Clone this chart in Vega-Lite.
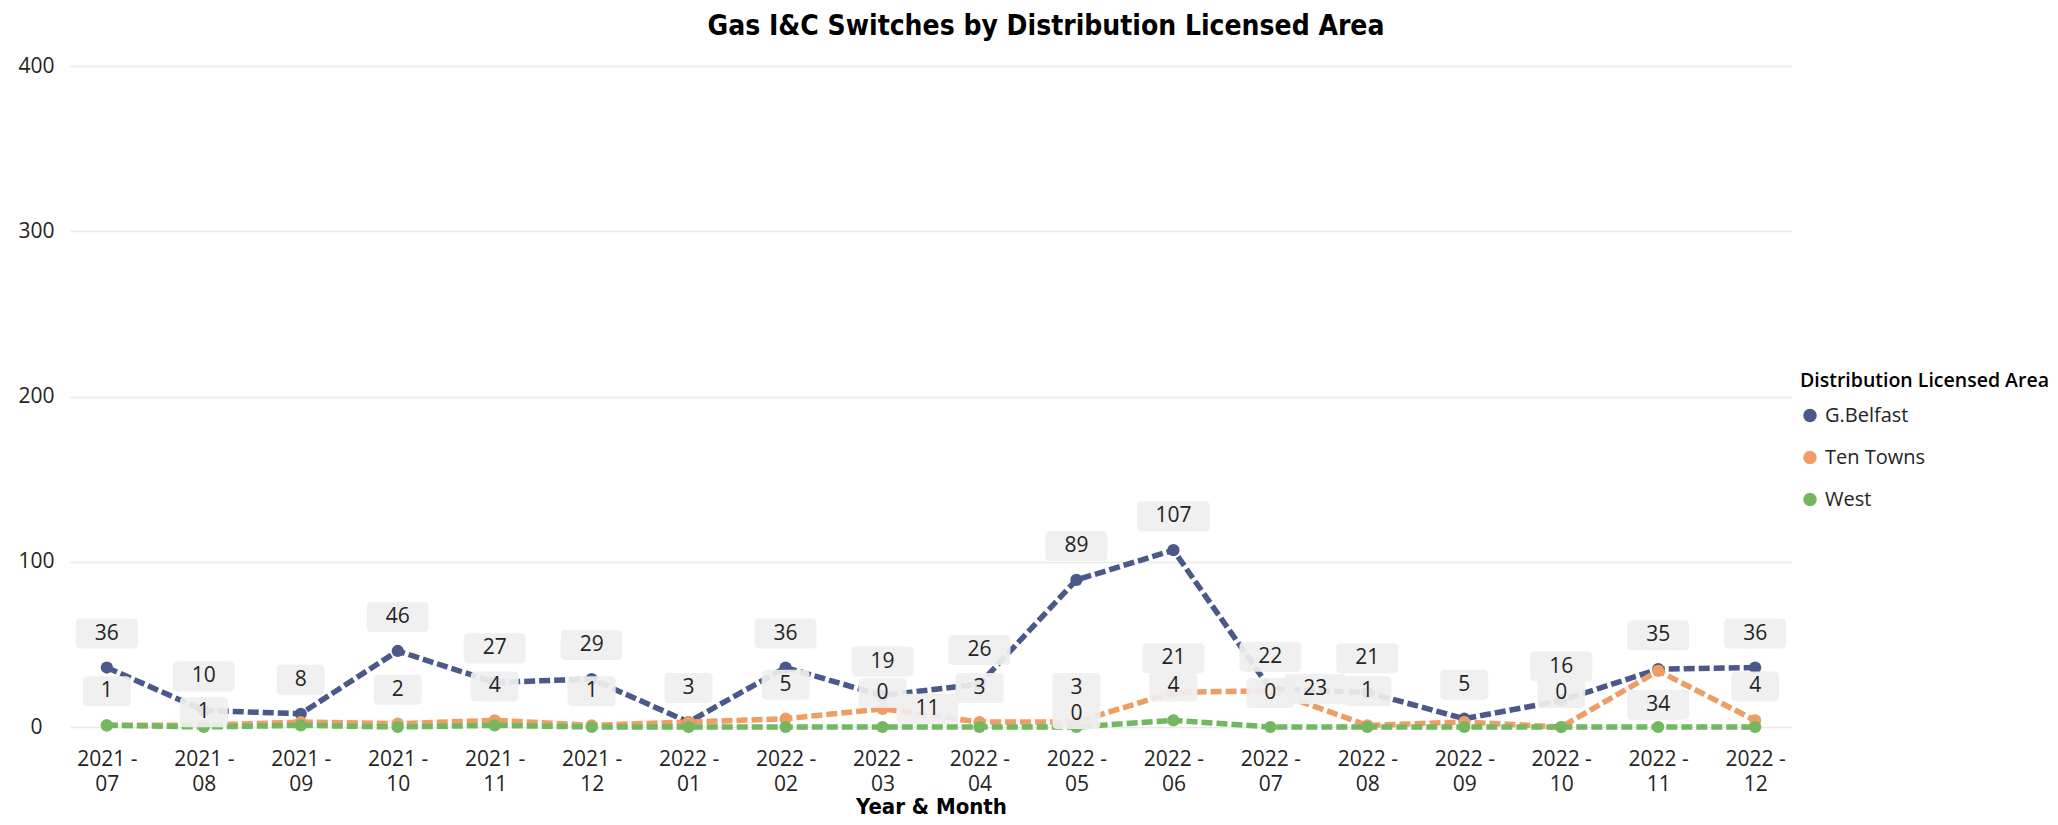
{
  "$schema": "https://vega.github.io/schema/vega-lite/v6.json",
  "autosize": {"type": "none"},
  "width": 1722,
  "height": 661,
  "padding": {"left": 70, "top": 66, "right": 266, "bottom": 98},
  "background": "white",
  "title": {
    "text": "Gas I&C Switches by Distribution Licensed Area",
    "anchor": "middle",
    "frame": "group",
    "dx": 115,
    "offset": 14,
    "font": "Liberation Sans Narrow, Arial Narrow, DejaVu Sans Condensed, sans-serif",
    "fontSize": 28,
    "fontWeight": "bold",
    "color": "#000000"
  },
  "config": {
    "view": {"stroke": null},
    "axis": {"labelFont": "Open Sans", "titleFont": "Liberation Sans Narrow, Arial Narrow, DejaVu Sans Condensed, sans-serif"},
    "legend": {
      "labelFont": "Open Sans",
      "titleFont": "Open Sans"
    }
  },
  "data": {
    "values": [
      {"month": "2021 - 07", "area": "G.Belfast", "value": 36},
      {"month": "2021 - 08", "area": "G.Belfast", "value": 10},
      {"month": "2021 - 09", "area": "G.Belfast", "value": 8},
      {"month": "2021 - 10", "area": "G.Belfast", "value": 46},
      {"month": "2021 - 11", "area": "G.Belfast", "value": 27},
      {"month": "2021 - 12", "area": "G.Belfast", "value": 29},
      {"month": "2022 - 01", "area": "G.Belfast", "value": 3},
      {"month": "2022 - 02", "area": "G.Belfast", "value": 36},
      {"month": "2022 - 03", "area": "G.Belfast", "value": 19},
      {"month": "2022 - 04", "area": "G.Belfast", "value": 26},
      {"month": "2022 - 05", "area": "G.Belfast", "value": 89},
      {"month": "2022 - 06", "area": "G.Belfast", "value": 107},
      {"month": "2022 - 07", "area": "G.Belfast", "value": 23},
      {"month": "2022 - 08", "area": "G.Belfast", "value": 21},
      {"month": "2022 - 09", "area": "G.Belfast", "value": 5},
      {"month": "2022 - 10", "area": "G.Belfast", "value": 16},
      {"month": "2022 - 11", "area": "G.Belfast", "value": 35},
      {"month": "2022 - 12", "area": "G.Belfast", "value": 36},
      {"month": "2021 - 07", "area": "Ten Towns", "value": 1},
      {"month": "2021 - 08", "area": "Ten Towns", "value": 1},
      {"month": "2021 - 09", "area": "Ten Towns", "value": 3},
      {"month": "2021 - 10", "area": "Ten Towns", "value": 2},
      {"month": "2021 - 11", "area": "Ten Towns", "value": 4},
      {"month": "2021 - 12", "area": "Ten Towns", "value": 1},
      {"month": "2022 - 01", "area": "Ten Towns", "value": 3},
      {"month": "2022 - 02", "area": "Ten Towns", "value": 5},
      {"month": "2022 - 03", "area": "Ten Towns", "value": 11},
      {"month": "2022 - 04", "area": "Ten Towns", "value": 3},
      {"month": "2022 - 05", "area": "Ten Towns", "value": 3},
      {"month": "2022 - 06", "area": "Ten Towns", "value": 21},
      {"month": "2022 - 07", "area": "Ten Towns", "value": 22},
      {"month": "2022 - 08", "area": "Ten Towns", "value": 1},
      {"month": "2022 - 09", "area": "Ten Towns", "value": 3},
      {"month": "2022 - 10", "area": "Ten Towns", "value": 0},
      {"month": "2022 - 11", "area": "Ten Towns", "value": 34},
      {"month": "2022 - 12", "area": "Ten Towns", "value": 4},
      {"month": "2021 - 07", "area": "West", "value": 1},
      {"month": "2021 - 08", "area": "West", "value": 0},
      {"month": "2021 - 09", "area": "West", "value": 1},
      {"month": "2021 - 10", "area": "West", "value": 0},
      {"month": "2021 - 11", "area": "West", "value": 1},
      {"month": "2021 - 12", "area": "West", "value": 0},
      {"month": "2022 - 01", "area": "West", "value": 0},
      {"month": "2022 - 02", "area": "West", "value": 0},
      {"month": "2022 - 03", "area": "West", "value": 0},
      {"month": "2022 - 04", "area": "West", "value": 0},
      {"month": "2022 - 05", "area": "West", "value": 0},
      {"month": "2022 - 06", "area": "West", "value": 4},
      {"month": "2022 - 07", "area": "West", "value": 0},
      {"month": "2022 - 08", "area": "West", "value": 0},
      {"month": "2022 - 09", "area": "West", "value": 0},
      {"month": "2022 - 10", "area": "West", "value": 0},
      {"month": "2022 - 11", "area": "West", "value": 0},
      {"month": "2022 - 12", "area": "West", "value": 0}
    ]
  },
  "transform": [
    {"calculate": "(datum.area == 'Ten Towns' && datum.month == '2021 - 08') || (datum.area == 'West' && datum.month == '2022 - 05') ? 'center' : ((datum.area == 'G.Belfast' && datum.month == '2022 - 07') || (datum.area == 'Ten Towns' && datum.month == '2022 - 03') ? 'right' : ((datum.area == 'Ten Towns' && datum.month == '2022 - 11') ? 'below' : (((datum.area == 'Ten Towns' && indexof(['2021 - 09', '2022 - 01', '2022 - 09'], datum.month) >= 0) || (datum.area == 'West' && indexof(['2022 - 03', '2022 - 06', '2022 - 07'], datum.month) < 0)) ? 'none' : 'above')))", "as": "place"},
    {"calculate": "'' + length(toString(datum.value))", "as": "digits"}
  ],
  "encoding": {
    "x": {
      "field": "month",
      "type": "ordinal",
      "sort": null,
      "scale": {"type": "point", "padding": 0.38},
      "axis": {
        "title": "Year & Month",
        "titleFontSize": 22,
        "titleFontWeight": "bold",
        "titleColor": "#000000",
        "titlePadding": 2,
        "labelAngle": 0,
        "labelExpr": "[slice(datum.label, 0, 6), slice(datum.label, 7)]",
        "labelFontSize": 21,
        "labelLineHeight": 25,
        "labelColor": "#252423",
        "labelPadding": 21,
        "ticks": false,
        "tickSize": 0,
        "domain": false,
        "grid": false
      }
    },
    "y": {
      "field": "value",
      "type": "quantitative",
      "scale": {"domain": [0, 400], "nice": false},
      "axis": {
        "title": null,
        "values": [0, 100, 200, 300, 400],
        "labelFontSize": 21,
        "labelColor": "#252423",
        "labelAlign": "center",
        "labelPadding": 34,
        "ticks": false,
        "tickSize": 0,
        "domain": false,
        "grid": true,
        "gridColor": "#e9e9e9",
        "gridWidth": 1.5
      }
    }
  },
  "layer": [
    {
      "mark": {"type": "line", "strokeWidth": 5.5, "strokeDash": [11, 4]},
      "encoding": {
        "color": {
          "field": "area",
          "type": "nominal",
          "scale": {"domain": ["G.Belfast", "Ten Towns", "West"], "range": ["#4A588A", "#EE9E64", "#73B761"]},
          "legend": {
            "title": "Distribution Licensed Area",
            "orient": "none",
            "legendX": 1730,
            "legendY": 306,
            "padding": 0,
            "titleFontSize": 19.5,
            "titleFontWeight": 600,
            "titleColor": "#000000",
            "titlePadding": 14,
            "titleLimit": 400,
            "labelFontSize": 20,
            "labelColor": "#252423",
            "labelOffset": 5,
            "symbolType": "circle",
            "symbolSize": 180,
            "symbolStrokeWidth": 0,
            "rowPadding": 22
          }
        }
      }
    },
    {
      "mark": {"type": "point", "filled": true, "size": 150, "opacity": 1},
      "encoding": {
        "color": {
          "field": "area",
          "type": "nominal",
          "scale": {"domain": ["G.Belfast", "Ten Towns", "West"], "range": ["#4A588A", "#EE9E64", "#73B761"]}
        }
      }
    },
    {
      "transform": [{"filter": "datum.place == 'above'"}],
      "mark": {"type": "point", "filled": true, "fill": "#efefef", "opacity": 0.92, "size": 5184, "yOffset": -34},
      "encoding": {
        "shape": {"field": "digits", "type": "nominal", "legend": null, "scale": {"domain": ["1", "2", "3"], "range": [
          "M -0.527 -0.417 L 0.527 -0.417 Q 0.667 -0.417 0.667 -0.277 L 0.667 0.277 Q 0.667 0.417 0.527 0.417 L -0.527 0.417 Q -0.667 0.417 -0.667 0.277 L -0.667 -0.277 Q -0.667 -0.417 -0.527 -0.417 Z",
          "M -0.721 -0.417 L 0.721 -0.417 Q 0.861 -0.417 0.861 -0.277 L 0.861 0.277 Q 0.861 0.417 0.721 0.417 L -0.721 0.417 Q -0.861 0.417 -0.861 0.277 L -0.861 -0.277 Q -0.861 -0.417 -0.721 -0.417 Z",
          "M -0.874 -0.417 L 0.874 -0.417 Q 1.014 -0.417 1.014 -0.277 L 1.014 0.277 Q 1.014 0.417 0.874 0.417 L -0.874 0.417 Q -1.014 0.417 -1.014 0.277 L -1.014 -0.277 Q -1.014 -0.417 -0.874 -0.417 Z"
        ]}}
      }
    },
    {
      "transform": [{"filter": "datum.place == 'above'"}],
      "mark": {"type": "text", "font": "Open Sans", "fontSize": 21, "color": "#252423", "baseline": "middle", "align": "center", "yOffset": -34},
      "encoding": {"text": {"field": "value", "type": "quantitative"}}
    },
    {
      "transform": [{"filter": "datum.place == 'center'"}],
      "mark": {"type": "point", "filled": true, "fill": "#efefef", "opacity": 0.92, "size": 5184, "yOffset": -13},
      "encoding": {
        "shape": {"field": "digits", "type": "nominal", "legend": null, "scale": {"domain": ["1", "2", "3"], "range": [
          "M -0.527 -0.417 L 0.527 -0.417 Q 0.667 -0.417 0.667 -0.277 L 0.667 0.277 Q 0.667 0.417 0.527 0.417 L -0.527 0.417 Q -0.667 0.417 -0.667 0.277 L -0.667 -0.277 Q -0.667 -0.417 -0.527 -0.417 Z",
          "M -0.721 -0.417 L 0.721 -0.417 Q 0.861 -0.417 0.861 -0.277 L 0.861 0.277 Q 0.861 0.417 0.721 0.417 L -0.721 0.417 Q -0.861 0.417 -0.861 0.277 L -0.861 -0.277 Q -0.861 -0.417 -0.721 -0.417 Z",
          "M -0.874 -0.417 L 0.874 -0.417 Q 1.014 -0.417 1.014 -0.277 L 1.014 0.277 Q 1.014 0.417 0.874 0.417 L -0.874 0.417 Q -1.014 0.417 -1.014 0.277 L -1.014 -0.277 Q -1.014 -0.417 -0.874 -0.417 Z"
        ]}}
      }
    },
    {
      "transform": [{"filter": "datum.place == 'center'"}],
      "mark": {"type": "text", "font": "Open Sans", "fontSize": 21, "color": "#252423", "baseline": "middle", "align": "center", "yOffset": -13},
      "encoding": {"text": {"field": "value", "type": "quantitative"}}
    },
    {
      "transform": [{"filter": "datum.place == 'below'"}],
      "mark": {"type": "point", "filled": true, "fill": "#efefef", "opacity": 0.92, "size": 5184, "yOffset": 34},
      "encoding": {
        "shape": {"field": "digits", "type": "nominal", "legend": null, "scale": {"domain": ["1", "2", "3"], "range": [
          "M -0.527 -0.417 L 0.527 -0.417 Q 0.667 -0.417 0.667 -0.277 L 0.667 0.277 Q 0.667 0.417 0.527 0.417 L -0.527 0.417 Q -0.667 0.417 -0.667 0.277 L -0.667 -0.277 Q -0.667 -0.417 -0.527 -0.417 Z",
          "M -0.721 -0.417 L 0.721 -0.417 Q 0.861 -0.417 0.861 -0.277 L 0.861 0.277 Q 0.861 0.417 0.721 0.417 L -0.721 0.417 Q -0.861 0.417 -0.861 0.277 L -0.861 -0.277 Q -0.861 -0.417 -0.721 -0.417 Z",
          "M -0.874 -0.417 L 0.874 -0.417 Q 1.014 -0.417 1.014 -0.277 L 1.014 0.277 Q 1.014 0.417 0.874 0.417 L -0.874 0.417 Q -1.014 0.417 -1.014 0.277 L -1.014 -0.277 Q -1.014 -0.417 -0.874 -0.417 Z"
        ]}}
      }
    },
    {
      "transform": [{"filter": "datum.place == 'below'"}],
      "mark": {"type": "text", "font": "Open Sans", "fontSize": 21, "color": "#252423", "baseline": "middle", "align": "center", "yOffset": 34},
      "encoding": {"text": {"field": "value", "type": "quantitative"}}
    },
    {
      "transform": [{"filter": "datum.place == 'right'"}],
      "mark": {"type": "point", "filled": true, "fill": "#efefef", "opacity": 0.92, "size": 5184, "xOffset": 45},
      "encoding": {
        "shape": {"field": "digits", "type": "nominal", "legend": null, "scale": {"domain": ["1", "2", "3"], "range": [
          "M -0.527 -0.417 L 0.527 -0.417 Q 0.667 -0.417 0.667 -0.277 L 0.667 0.277 Q 0.667 0.417 0.527 0.417 L -0.527 0.417 Q -0.667 0.417 -0.667 0.277 L -0.667 -0.277 Q -0.667 -0.417 -0.527 -0.417 Z",
          "M -0.721 -0.417 L 0.721 -0.417 Q 0.861 -0.417 0.861 -0.277 L 0.861 0.277 Q 0.861 0.417 0.721 0.417 L -0.721 0.417 Q -0.861 0.417 -0.861 0.277 L -0.861 -0.277 Q -0.861 -0.417 -0.721 -0.417 Z",
          "M -0.874 -0.417 L 0.874 -0.417 Q 1.014 -0.417 1.014 -0.277 L 1.014 0.277 Q 1.014 0.417 0.874 0.417 L -0.874 0.417 Q -1.014 0.417 -1.014 0.277 L -1.014 -0.277 Q -1.014 -0.417 -0.874 -0.417 Z"
        ]}}
      }
    },
    {
      "transform": [{"filter": "datum.place == 'right'"}],
      "mark": {"type": "text", "font": "Open Sans", "fontSize": 21, "color": "#252423", "baseline": "middle", "align": "center", "xOffset": 45},
      "encoding": {"text": {"field": "value", "type": "quantitative"}}
    }
  ]
}
